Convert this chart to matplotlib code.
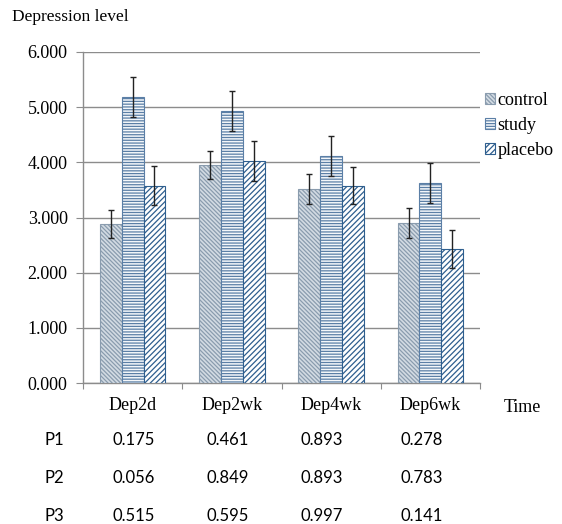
import matplotlib
matplotlib.use("Agg")
import matplotlib.pyplot as plt
import numpy as np
from matplotlib.patches import Patch
from matplotlib.font_manager import FontProperties

categories = ["Dep2d", "Dep2wk", "Dep4wk", "Dep6wk"]
series = ["control", "study", "placebo"]
control = [2.88, 3.95, 3.51, 2.90]
study = [5.19, 4.93, 4.11, 3.63]
placebo = [3.58, 4.03, 3.58, 2.43]
control_err = [0.26, 0.26, 0.27, 0.27]
study_err = [0.36, 0.37, 0.36, 0.36]
placebo_err = [0.35, 0.36, 0.34, 0.34]
yticks = [0, 1, 2, 3, 4, 5, 6]
p_labels = ["P1", "P2", "P3"]
p1 = ["0.175", "0.461", "0.893", "0.278"]
p2 = ["0.056", "0.849", "0.893", "0.783"]
p3 = ["0.515", "0.595", "0.997", "0.141"]

plt.rcParams['hatch.linewidth'] = 0.9
plt.rcParams['font.family'] = ["Liberation Serif", "DejaVu Serif"]
serif = "Liberation Serif"
sans = "Lato"

W, H = 562, 524
fig = plt.figure(figsize=(W / 100, H / 100), dpi=100)
ax = fig.add_axes([83 / W, 1 - 383 / H, (480 - 83) / W, (383 - 52) / H])

x = np.arange(len(categories))
bw = 0.22
styles = [
    dict(facecolor="#d3dbe3", edgecolor="#8a9cae", hatch="\\\\\\\\\\\\\\\\"),
    dict(facecolor="#f4f7fa", edgecolor="#5b7fa6", hatch="------"),
    dict(facecolor="#ffffff", edgecolor="#2f5f8f", hatch="//////"),
]
vals = [control, study, placebo]
errs = [control_err, study_err, placebo_err]
for k in range(3):
    ax.bar(x + (k - 1) * bw, vals[k], bw, yerr=errs[k], linewidth=0.8,
           error_kw=dict(ecolor="#222222", elinewidth=1.0, capsize=2.5, capthick=1.0),
           zorder=3, **styles[k])

ax.set_xlim(-0.5, len(categories) - 0.5)
ax.set_ylim(0, 6)
ax.set_yticks(yticks)
ax.set_yticklabels([f"{v:.3f}" for v in yticks], fontfamily=serif, fontsize=13)
ax.yaxis.grid(True, color="#8c8c8c", linewidth=1.0, zorder=0)
ax.set_axisbelow(True)
ax.set_xticks(np.arange(-0.5, len(categories)), minor=False)
ax.set_xticklabels([])
ax.tick_params(axis="x", length=4, color="#8c8c8c", direction="out")
ax.tick_params(axis="y", length=5, color="#8c8c8c", direction="out", pad=6)
for s in ["top", "right"]:
    ax.spines[s].set_visible(False)
for s in ["left", "bottom"]:
    ax.spines[s].set_color("#8c8c8c")
    ax.spines[s].set_linewidth(1.0)

# category labels
for i, c in enumerate(categories):
    ax.text(i, -22 / 331, c, transform=ax.get_xaxis_transform(), ha="center", va="center",
            fontfamily=serif, fontsize=13)
fig.text(522 / W, 1 - 407 / H, "Time", ha="center", va="center", fontfamily=serif, fontsize=13)
fig.text(12 / W, 1 - 17 / H, "Depression level", ha="left", va="center", fontfamily=serif, fontsize=12.5)

# legend
handles = [Patch(**styles[k], linewidth=0.8) for k in range(3)]
fig.legend(handles, series, loc="upper left", bbox_to_anchor=(485 / W, 1 - 92 / H),
           frameon=False, prop=FontProperties(family=serif, size=13), handlelength=0.55,
           handleheight=0.55, handletextpad=0.15, labelspacing=0.45, borderpad=0,
           borderaxespad=0)

# p-value table
col_x = [134, 228, 322, 422]
row_y = [440, 478, 516]
for r, (lab, row) in enumerate(zip(p_labels, [p1, p2, p3])):
    fig.text(45 / W, 1 - row_y[r] / H, lab, ha="left", va="center", fontfamily=sans, fontsize=12)
    for j, v in enumerate(row):
        fig.text(col_x[j] / W, 1 - row_y[r] / H, v, ha="center", va="center",
                 fontfamily=sans, fontsize=12)

fig.savefig("out.png", dpi=100)
